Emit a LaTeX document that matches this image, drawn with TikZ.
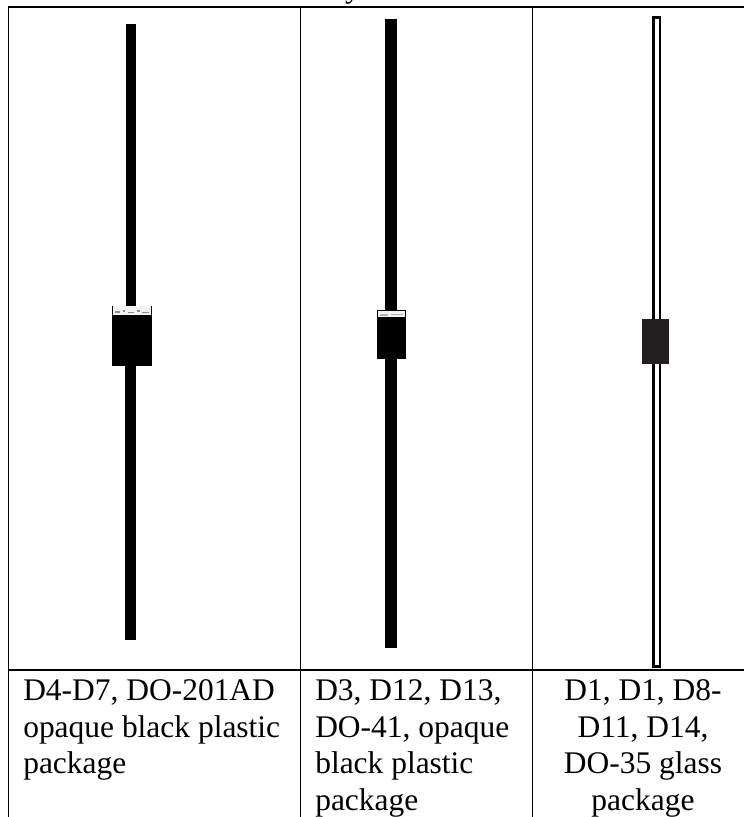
\documentclass[tikz,border=0pt]{standalone}
\usepackage{fontspec}
\setmainfont{Liberation Serif}
\definecolor{bodygrey}{HTML}{231F20}
\definecolor{bandwhite}{HTML}{F2F2F2}
\tikzset{
  thickrule/.style={draw=black,line width=1.5pt},
  thinrule/.style={draw=black,line width=0.6pt},
  lead/.style={fill=black,draw=none},
  glass/.style={fill=white,draw=black,line width=1.6pt},
  marking/.style={draw=black!45,line width=1pt},
  cell/.style={font=\fontsize{23.6}{28}\selectfont,inner sep=0pt,anchor=base west},
  cellc/.style={font=\fontsize{23.6}{28}\selectfont,inner sep=0pt,anchor=base},
}
\begin{document}
\begin{tikzpicture}[x=0.75pt,y=-0.75pt]
\useasboundingbox (0,0) rectangle (744,817);
\fill[white] (0,0) rectangle (744,817);
% cut-off last letter of the caption above the table
\begin{scope}
\clip (0,0) rectangle (744,817);
\node[cellc] at (353,-2) {y};
\end{scope}
% table rules
\draw[thickrule] (8,7) -- (744,7);
\draw[thickrule] (8,670) -- (744,670);
\draw[thinrule] (8.5,7) -- (8.5,817);
\draw[thinrule] (300.5,7) -- (300.5,817);
\draw[thinrule] (532.5,7) -- (532.5,817);
% diode 1
\fill[lead] (126,24) rectangle (136,306);
\fill[lead] (125,366) rectangle (136,640);
\fill[black] (112,306) rectangle (152,366);
\fill[bandwhite] (113,306) rectangle (151,315);
\draw[marking] (115,312) -- (120,312);
\draw[marking] (123,311) -- (125,311);
\draw[marking] (128,312.5) -- (134,312.5);
\draw[marking] (137,311) -- (140,311);
\draw[marking] (142,312.5) -- (149,312.5);
% diode 2
\fill[lead] (384.5,19) rectangle (396.5,310);
\fill[lead] (384.5,359) rectangle (396.5,648);
\fill[black] (377,310) rectangle (406,359);
\fill[bandwhite] (378,311) rectangle (405,317);
\draw[marking,black!30] (380,315) -- (388,315);
\draw[marking,black!30] (391,314.5) -- (403,314.5);
% diode 3
\draw[glass] (653.5,17.5) rectangle (660,666.5);
\fill[bodygrey] (642,319) rectangle (669,364);
% text
\node[cell] at (23,700) {D4-D7, DO-201AD};
\node[cell] at (23,737) {opaque black plastic};
\node[cell] at (23,773) {package};
\node[cell] at (315,700) {D3, D12, D13,};
\node[cell] at (315,737) {DO-41, opaque};
\node[cell] at (315,773) {black plastic};
\node[cell] at (315,810) {package};
\node[cellc] at (643,700) {D1, D1, D8-};
\node[cellc] at (643,737) {D11, D14,};
\node[cellc] at (643,773) {DO-35 glass};
\node[cellc] at (643,810) {package};
\end{tikzpicture}
\end{document}
